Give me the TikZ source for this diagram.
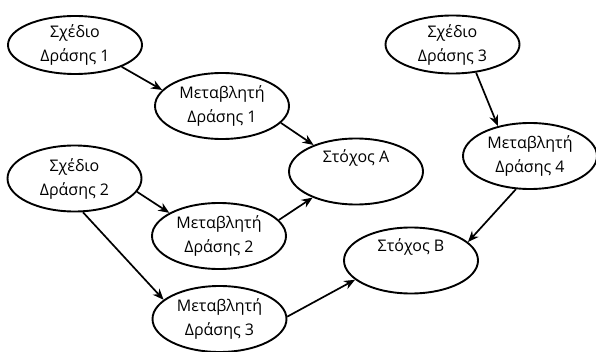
\documentclass[tikz,border=0pt]{standalone}
\usepackage{fontspec}
\setmainfont{Open Sans}
\usepackage{tikz}
\usetikzlibrary{shapes.geometric,arrows.meta}

\tikzset{
  bubble/.style={ellipse, draw, line width=1.9pt, inner sep=0pt,
    minimum width=134pt, minimum height=66pt, align=center,
    font=\fontsize{16}{24}\selectfont},
  flat/.style={minimum height=58pt},
  link/.style={line width=1.7pt, -{Stealth[length=11pt,width=9pt]}}
}

\begin{document}
\begin{tikzpicture}[x=1pt,y=-1pt]
    \useasboundingbox (0,0) rectangle (596,352);
    % plans
    \node[bubble,flat] (s1) at (75,45) {Σχέδιο\\Δράσης 1};
    \node[bubble] (s2) at (74.5,178.5) {Σχέδιο\\Δράσης 2};
    \node[bubble,flat] (s3) at (452.5,44.5) {Σχέδιο\\Δράσης 3};
    % variables
    \node[bubble] (m1) at (222,106) {Μεταβλητή\\Δράσης 1};
    \node[bubble] (m2) at (219,236) {Μεταβλητή\\Δράσης 2};
    \node[bubble] (m3) at (219.5,319) {Μεταβλητή\\Δράσης 3};
    \node[bubble] (m4) at (530,156) {Μεταβλητή\\Δράσης 4};
    % goals
    \node[bubble] (ga) at (356,171.5) {Στόχος Α\\\strut};
    \node[bubble] (gb) at (411,260.5) {Στόχος Β\\\strut};

    \draw[link] (s1.-25) -- (m1.165);
    \draw[link] (m1.-16) -- (ga.148);
    \draw[link] (s2.-12) -- (m2.155);
    \draw[link] (s2.-76) -- (m3.161);
    \draw[link] (m2.15) -- (ga.-149);
    \draw[link] (m3.2) -- (gb.199);
    \draw[link] (s3.-50) -- (m4.137);
    \draw[link] (m4.-113) -- (gb.18);
\end{tikzpicture}
\end{document}
